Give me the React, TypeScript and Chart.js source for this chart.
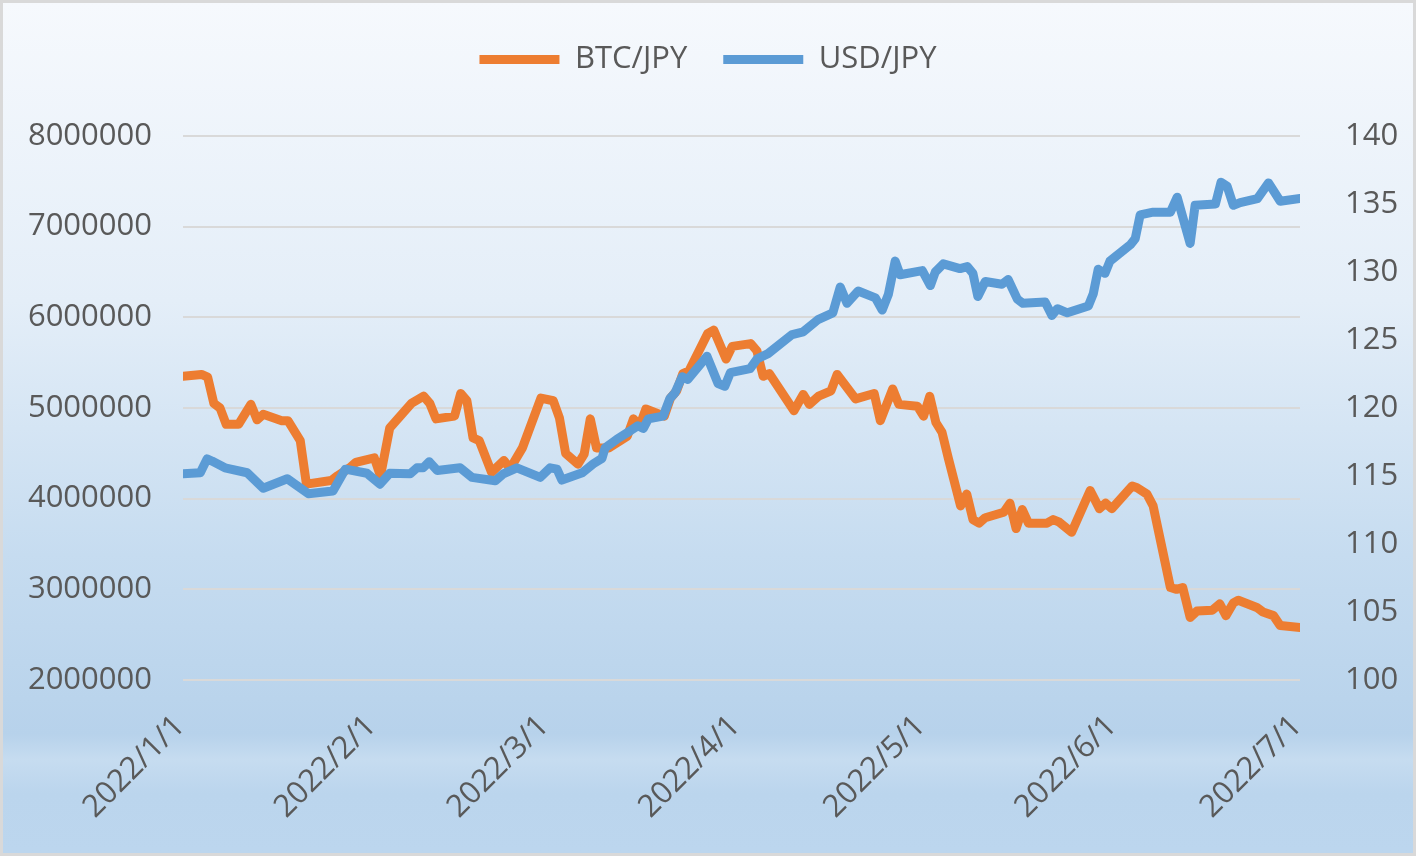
import { useEffect, useRef } from "react";
import Chart from "chart.js/auto";

// day offsets from 2022/1/1
const monthStartDays = [0, 31, 59, 90, 120, 151, 181];
const monthLabels = ["2022/1/1", "2022/2/1", "2022/3/1", "2022/4/1", "2022/5/1", "2022/6/1", "2022/7/1"];

const btcDays = [
	0, 3, 4, 5, 6, 7, 9, 11, 12, 13, 16, 17, 19, 20, 24, 25, 27, 28, 31, 32,
	33.5, 37, 39, 40, 41, 44, 45, 46, 47, 48, 50, 52, 53, 55, 58, 60, 61, 62, 64, 65,
	66, 67, 69, 72, 73, 74, 75, 78, 79, 80, 81, 82, 85, 86, 88, 89, 92, 93, 94, 95,
	99, 100.5, 101.5, 103, 105, 106, 109, 112, 113, 115, 116, 119, 120, 121, 122, 123, 124, 126, 127, 128,
	129, 130, 133, 134, 135, 136, 137, 140, 141, 142, 144, 147, 148.5, 149.5, 150.5, 153.8, 154.6, 156.2, 157.2, 160,
	161, 162, 163.2, 164.3, 166.8, 168, 169, 170.2, 171, 174, 175, 176.7, 177.8, 181,
];
const btcValues = [
	5350000, 5370000, 5340000, 5050000, 5000000, 4820000, 4820000, 5040000, 4870000, 4930000,
	4860000, 4860000, 4640000, 4160000, 4200000, 4250000, 4340000, 4400000, 4450000, 4250000,
	4780000, 5050000, 5130000, 5050000, 4880000, 4910000, 5160000, 5080000, 4670000, 4640000,
	4290000, 4420000, 4330000, 4560000, 5110000, 5080000, 4890000, 4500000, 4380000, 4490000,
	4880000, 4560000, 4560000, 4690000, 4880000, 4800000, 4990000, 4910000, 5110000, 5190000,
	5380000, 5410000, 5820000, 5860000, 5540000, 5680000, 5710000, 5630000, 5350000, 5380000,
	4970000, 5150000, 5040000, 5130000, 5190000, 5370000, 5100000, 5160000, 4860000, 5210000,
	5040000, 5020000, 4910000, 5130000, 4840000, 4730000, 4450000, 3920000, 4050000, 3770000,
	3730000, 3790000, 3850000, 3950000, 3670000, 3880000, 3730000, 3730000, 3770000, 3740000,
	3630000, 4090000, 3890000, 3950000, 3890000, 4140000, 4120000, 4050000, 3920000, 3020000,
	3000000, 3020000, 2690000, 2760000, 2770000, 2840000, 2710000, 2850000, 2880000, 2800000,
	2750000, 2710000, 2600000, 2580000,
];

const usdDays = [
	0, 2.8, 3.9, 4.7, 6.8, 10.4, 13, 16.9, 20.3, 24.3, 26.3, 29.8, 31.9, 33.5, 36.8, 37.9, 38.9, 39.9, 41.2, 44.9,
	46.8, 50.6, 51.9, 54.1, 57.9, 59.5, 60.6, 61.4, 64.7, 66.5, 67.9, 68.4, 70.3, 72.4, 73.7, 74.6, 75.4, 77.8, 78.9, 79.7,
	80.9, 81.8, 84.9, 86.7, 87.8, 88.7, 91.9, 93, 94.8, 98.7, 100.5, 102.9, 105.3, 106.5, 107.6, 109.4, 112.2, 113.3, 114.3, 115.4,
	116.2, 119.8, 121.1, 121.9, 123.2, 125.9, 127.1, 128, 128.8, 130, 132.7, 133.7, 135.2, 136.1, 139.7, 140.8, 141.7, 143.3, 146.7, 147.5,
	148.3, 149.4, 150.2, 153.5, 154.3, 155.1, 157.2, 160, 161.1, 163.2, 164, 167.3, 168.2, 169.2, 170.2, 171.3, 174.1, 175.9, 177.8, 181,
];
const usdValues = [
	115.16, 115.24, 116.26, 116.1, 115.6, 115.24, 114.1, 114.8, 113.7, 113.9,
	115.5, 115.2, 114.4, 115.2, 115.16, 115.6, 115.6, 116.05, 115.4, 115.6,
	114.9, 114.65, 115.16, 115.6, 114.9, 115.6, 115.5, 114.7, 115.24, 115.9,
	116.3, 117.07, 117.7, 118.3, 118.7, 118.5, 119.2, 119.4, 120.7, 121.1,
	122.3, 122.1, 123.8, 121.8, 121.6, 122.6, 122.9, 123.6, 124.0, 125.4,
	125.6, 126.5, 127.0, 128.9, 127.7, 128.6, 128.1, 127.2, 128.35, 130.8,
	129.8, 130.1, 129.0, 130.0, 130.6, 130.25, 130.4, 129.9, 128.2, 129.3,
	129.1, 129.45, 128.0, 127.7, 127.8, 126.8, 127.3, 127.0, 127.5, 128.4,
	130.2, 129.9, 130.8, 132.0, 132.45, 134.2, 134.4, 134.4, 135.5, 132.1,
	134.9, 135.0, 136.6, 136.3, 134.9, 135.1, 135.4, 136.55, 135.2, 135.4,
];

const textColor = "#595959";
const fontFamily = "'Open Sans', 'Noto Sans', sans-serif";

// leaves extra room under the legend, like the Excel layout
const legendGap = {
	id: "legendGap",
	afterInit(chart: any) {
		const legend = chart.legend;
		if (!legend) return;
		const fit = legend.fit.bind(legend);
		legend.fit = () => {
			fit();
			legend.height += 51;
		};
	},
};

const App = () => {
	const canvasRef = useRef<HTMLCanvasElement | null>(null);

	useEffect(() => {
		if (!canvasRef.current) return;
		document.body.style.margin = "0";

		const chart = new Chart(canvasRef.current, {
			type: "line",
			data: {
				datasets: [
					{
						label: "BTC/JPY",
						data: btcDays.map((d, i) => ({ x: d, y: btcValues[i] })),
						borderColor: "#ED7D31",
						backgroundColor: "#ED7D31",
						borderWidth: 9,
						borderCapStyle: "round",
						borderJoinStyle: "round",
						pointRadius: 0,
						yAxisID: "y",
						order: 2,
					},
					{
						label: "USD/JPY",
						data: usdDays.map((d, i) => ({ x: d, y: usdValues[i] })),
						borderColor: "#5B9BD5",
						backgroundColor: "#5B9BD5",
						borderWidth: 9,
						borderCapStyle: "round",
						borderJoinStyle: "round",
						pointRadius: 0,
						yAxisID: "y1",
						order: 1,
					},
				],
			},
			options: {
				animation: false,
				responsive: true,
				maintainAspectRatio: false,
				layout: { padding: { top: 5 } },
				scales: {
					x: {
						type: "linear",
						min: 0,
						max: 181,
						grid: { display: false },
						border: { display: false },
						afterBuildTicks: (scale) => {
							scale.ticks = monthStartDays.map((v) => ({ value: v }));
						},
						afterFit: (scale) => {
							scale.height = 173;
						},
						ticks: {
							autoSkip: false,
							maxRotation: 45,
							minRotation: 45,
							padding: 20,
							labelOffset: -3,
							color: textColor,
							font: { family: fontFamily, size: 31 },
							callback: (value) => monthLabels[monthStartDays.indexOf(Number(value))] ?? "",
						},
					},
					y: {
						position: "left",
						min: 2000000,
						max: 8000000,
						grid: { color: "#d9d9d9", lineWidth: 2, drawTicks: false },
						border: { display: false },
						afterFit: (scale) => {
							scale.width = 180;
						},
						ticks: {
							stepSize: 1000000,
							padding: 31,
							color: textColor,
							font: { family: fontFamily, size: 31 },
							callback: (value) => String(value),
						},
					},
					y1: {
						position: "right",
						min: 100,
						max: 140,
						grid: { display: false },
						border: { display: false },
						afterFit: (scale) => {
							scale.width = 113;
						},
						ticks: {
							stepSize: 5,
							padding: 37,
							color: textColor,
							font: { family: fontFamily, size: 31 },
						},
					},
				},
				plugins: {
					tooltip: { enabled: false },
					legend: {
						position: "top",
						labels: {
							usePointStyle: true,
							pointStyle: "line",
							pointStyleWidth: 80,
							padding: 36,
							color: textColor,
							font: { family: fontFamily, size: 31 },
							sort: (a, b) => a.datasetIndex - b.datasetIndex,
						},
					},
				},
			},
			plugins: [legendGap],
		});

		return () => {
			chart.destroy();
		};
	}, []);

	return (
		<div
			style={{
				position: "fixed",
				left: 0,
				top: 0,
				width: 1416,
				height: 856,
				boxSizing: "border-box",
				border: "3px solid #d9d9d9",
				background:
					"linear-gradient(to bottom, #f6f9fd 0%, #e4eef8 35%, #c6dcf0 65%, #b7d2eb 86%, #c6dcf0 89%, #bbd5ed 93%, #bcd6ee 100%)",
			}}
		>
			<canvas ref={canvasRef} />
		</div>
	);
};

export default App;
